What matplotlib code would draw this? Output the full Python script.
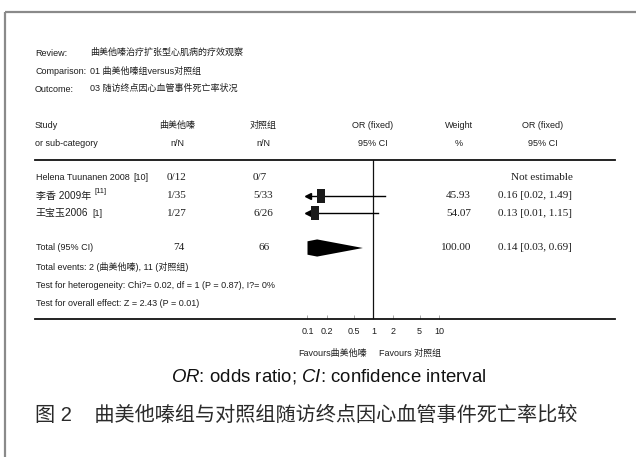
import matplotlib
matplotlib.use('Agg')
import matplotlib.pyplot as plt
import numpy as np
from matplotlib import font_manager
from matplotlib.path import Path

W, H = 636, 457

names = {f.name for f in font_manager.fontManager.ttflist}
NARROW = 'Liberation Sans Narrow' if 'Liberation Sans Narrow' in names else 'Liberation Sans'
CJK = 'Noto Sans CJK SC'
SANS = [NARROW, CJK]
NUM = ['Liberation Serif', CJK]

plt.rcParams['mathtext.fontset'] = 'custom'
plt.rcParams['mathtext.rm'] = 'Liberation Sans'
plt.rcParams['mathtext.it'] = 'Liberation Sans:italic'

# ---- meta-analysis data ----
studies = ['Helena Tuunanen 2008', '李香 2009年', '王宝玉2006']
refs = ['[10]', '[11]', '[1]']
ref_super = [False, True, False]
treat_events = ['0/12', '1/35', '1/27']
ctrl_events = ['0/7', '5/33', '6/26']
weights = [None, 45.93, 54.07]
or_est = [None, 0.16, 0.13]
or_lo = [None, 0.02, 0.01]
or_hi = [None, 1.49, 1.15]
total_treat = 74
total_ctrl = 66
total_weight = 100.00
total_or, total_lo, total_hi = 0.14, 0.03, 0.69
ticks = [0.1, 0.2, 0.5, 1, 2, 5, 10]
tick_labels = ['0.1', '0.2', '0.5', '1', '2', '5', '10']

fig = plt.figure(figsize=(W / 100, H / 100), dpi=100)

# full-figure axes in pixel units for the text table and frame
bg = fig.add_axes([0, 0, 1, 1])
bg.set_xlim(0, W)
bg.set_ylim(H, 0)
bg.axis('off')

bg.plot([5, W], [12, 12], color='#8a8a8a', lw=1.6, solid_capstyle='butt')
bg.plot([5, 5], [12, H], color='#8a8a8a', lw=1.6, solid_capstyle='butt')

TC = '#1e1e1e'
FS = 6.5      # RevMan body text
FS_CN = 6.5   # Chinese in the header rows
FS_NUM = 8    # numeric columns


def txt(x, y, s, size=FS, family=SANS, ha='left', **kw):
    return bg.text(x, y, s, fontsize=size, family=family, ha=ha, va='center',
                   color=TC, **kw)


# header block
txt(35, 53, 'Review:')
txt(90, 52, '曲美他嗪治疗扩张型心肌病的疗效观察', size=FS_CN)
txt(35, 72, 'Comparison:')
txt(90, 71, '01 曲美他嗪组versus对照组', size=FS_CN)
txt(35, 89, 'Outcome:')
txt(90, 88, '03 随访终点因心血管事件死亡率状况', size=FS_CN)

# column headers
txt(35, 126, 'Study')
txt(35, 144, 'or sub-category')
for cx, top, bottom in [(177, '曲美他嗪', 'n/N'), (263, '对照组', 'n/N'),
                        (373, 'OR (fixed)', '95% CI'), (459, 'Weight', '%'),
                        (543, 'OR (fixed)', '95% CI')]:
    txt(cx, 125, top, ha='center', size=FS_CN)
    txt(cx, 144, bottom, ha='center')

ROW0, STEP = 178, 17.5
row_pos = [0, 1, 2]
total_pos = 4


def row_px(k):
    return ROW0 + STEP * k


for k, name, ref, sup, te, ce, w, o, lo, hi in zip(
        row_pos, studies, refs, ref_super, treat_events, ctrl_events,
        weights, or_est, or_lo, or_hi):
    y = row_px(k)
    size = FS if k == 0 else 7.2
    t = txt(36, y, name, size=size)
    bg.annotate(ref, xy=(1, 0.5), xycoords=t,
                xytext=(2.5, 3 if sup else 0), textcoords='offset points',
                fontsize=5.5 if sup else FS, family=SANS, va='center', color=TC)
    txt(167, y, te, size=FS_NUM, family=NUM)
    txt(253, y, ce, size=FS_NUM, family=NUM)
    if w is None:
        txt(511, y, 'Not estimable', size=FS_NUM, family=NUM)
    else:
        txt(471, y, f'{w:.2f}', size=FS_NUM, family=NUM, ha='right')
        txt(498, y, f'{o:.2f} [{lo:.2f}, {hi:.2f}]', size=FS_NUM, family=NUM)

yt = row_px(total_pos)
txt(36, yt, 'Total (95% CI)')
txt(185, yt, f'{total_treat}', size=FS_NUM, family=NUM, ha='right')
txt(270, yt, f'{total_ctrl}', size=FS_NUM, family=NUM, ha='right')
txt(471, yt, f'{total_weight:.2f}', size=FS_NUM, family=NUM, ha='right')
txt(498, yt, f'{total_or:.2f} [{total_lo:.2f}, {total_hi:.2f}]', size=FS_NUM, family=NUM)

txt(36, 267, 'Total events: 2 (曲美他嗪), 11 (对照组)')
txt(36, 285, 'Test for heterogeneity: Chi?= 0.02, df = 1 (P = 0.87), I?= 0%')
txt(36, 303, 'Test for overall effect: Z = 2.43 (P = 0.01)')

txt(367, 353, 'Favours曲美他嗪', ha='right')
txt(379, 353, 'Favours 对照组')

bg.text(329, 377, r'$\it{OR}$: odds ratio; $\it{CI}$: confidence interval',
        fontsize=13.4, family='Liberation Sans', ha='center', va='center',
        color='#111111')
bg.text(35, 415, '图 2    曲美他嗪组与对照组随访终点因心血管事件死亡率比较',
        fontsize=14.5, family=['Liberation Sans', CJK], ha='left', va='center',
        color='#2a2a2a')

# ---- forest plot ----
PX_DEC = 66.0
ax = fig.add_axes([35 / W, 1 - 319 / H, 580 / W, 159 / H])
ax.set_facecolor('none')
ax.set_xscale('log')
ax.set_xlim(10 ** (-338.5 / PX_DEC), 10 ** (241.5 / PX_DEC))
ax.set_ylim((319 - ROW0) / STEP, (160 - ROW0) / STEP)
for s in ['left', 'right']:
    ax.spines[s].set_visible(False)
for s in ['top', 'bottom']:
    ax.spines[s].set_linewidth(1.3)
    ax.spines[s].set_color('#111111')
ax.set_yticks([])
ax.set_xticks(ticks)
ax.set_xticklabels(tick_labels)
ax.minorticks_off()
ax.tick_params(axis='x', direction='in', length=3, width=0.6, colors='#999999',
               labelcolor=TC, labelsize=FS, pad=6)
for lab in ax.get_xticklabels():
    lab.set_fontfamily(SANS)

ax.axvline(1, color='#111111', lw=0.9)

clip = ticks[0]
box = Path([(-0.27, -0.5), (0.27, -0.5), (0.27, 0.5), (-0.27, 0.5), (-0.27, -0.5)],
           [Path.MOVETO, Path.LINETO, Path.LINETO, Path.LINETO, Path.CLOSEPOLY])

for k, w, o, lo, hi in zip(row_pos, weights, or_est, or_lo, or_hi):
    if o is None:
        continue
    ax.plot([max(lo, clip), hi], [k, k], color='black', lw=1.0)
    if lo < clip:
        ax.plot(clip * 1.02, k, marker='<', ms=4.5, color='black')
    ax.plot(o, k, marker=box, ms=10 * np.sqrt(w / 50), color='#1a1a1a', mew=0)

# pooled diamond, cut off at the left end of the scale
l, c, r = np.log10([total_lo, total_or, total_hi])
lc = np.log10(clip)
h = 0.49
if l < lc:
    f = (lc - l) / (c - l)
    verts = [(lc, total_pos - h * f), (c, total_pos - h), (r, total_pos),
             (c, total_pos + h), (lc, total_pos + h * f)]
else:
    verts = [(l, total_pos), (c, total_pos - h), (r, total_pos), (c, total_pos + h)]
dx = [10 ** v[0] for v in verts]
dy = [v[1] for v in verts]
ax.fill(dx, dy, color='black', lw=0)

fig.savefig('out.png', dpi=100)
